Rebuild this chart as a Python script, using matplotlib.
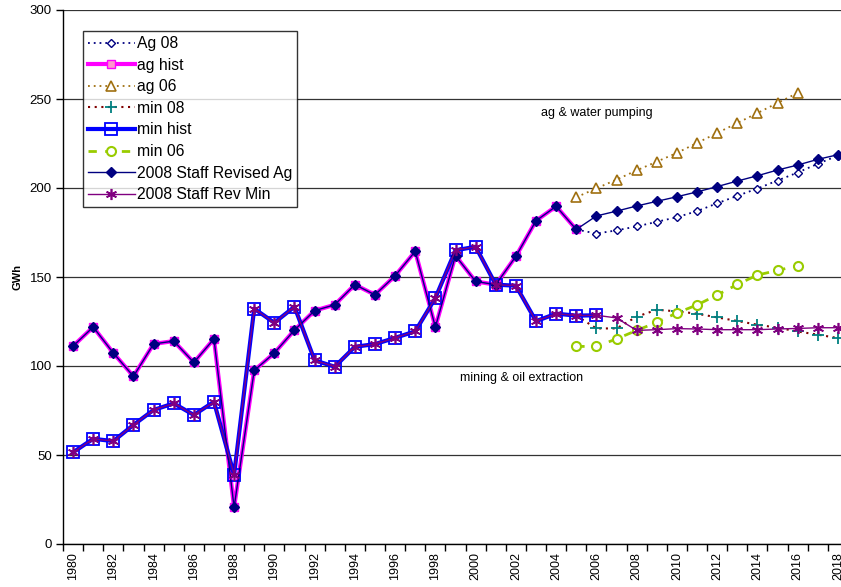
import matplotlib
matplotlib.use("Agg")
import matplotlib.pyplot as plt
import numpy as np

plt.rcParams["font.family"] = ["Liberation Sans", "DejaVu Sans"]

years_hist = list(range(1980, 2006))
ag_hist = [111.2, 121.9, 107.3, 94.2, 112.4, 114.0, 102.0, 115.2, 20.6, 97.5,
           107.3, 120.2, 131.1, 134.4, 145.7, 140.0, 150.7, 164.4, 121.9, 162.0,
           147.5, 145.7, 161.6, 181.6, 189.7, 176.7]
years_min_hist = list(range(1980, 2007))
min_hist = [51.5, 59.1, 57.8, 66.9, 75.3, 79.0, 72.5, 79.9, 38.9, 132.2,
            124.3, 133.3, 103.2, 99.6, 110.8, 112.3, 115.8, 119.5, 138.2, 165.0,
            167.0, 145.7, 145.1, 125.2, 129.4, 128.3, 128.5]

years_staff = list(range(1980, 2019))
staff_ag = ag_hist + [184.3, 187.0, 189.9, 192.5, 195.1, 197.8, 200.8, 203.9,
                      206.9, 210.1, 212.9, 216.1, 218.7]
staff_min = min_hist + [127.0, 120.0, 120.4, 121.0, 120.8, 120.4, 120.4, 120.4,
                        120.8, 121.1, 121.5, 121.5]

years_f08 = list(range(2005, 2019))
ag_08 = [176.7, 174.4, 176.2, 178.4, 181.0, 183.6, 187.0, 191.4, 195.6, 199.7,
         204.2, 208.7, 213.6, 218.2]
min_08 = [128.3, 121.1, 121.1, 127.7, 131.6, 130.7, 129.4, 127.3, 125.3, 123.2,
          121.5, 119.4, 117.6, 115.7]

years_f06 = list(range(2005, 2017))
ag_06 = [194.8, 199.8, 204.7, 209.9, 214.8, 219.7, 225.3, 230.9, 236.5, 242.1,
         247.8, 253.4]
min_06 = [111.0, 111.0, 115.2, 120.0, 124.5, 129.8, 134.3, 139.9, 145.8, 151.1,
          153.7, 156.3]

NAVY = "#000080"
fig = plt.figure(figsize=(8.41, 5.87), dpi=100)
ax = fig.add_axes([63 / 841, 1 - 544 / 587, 785 / 841, 534 / 587])

ax.plot(years_f08, ag_08, color=NAVY, lw=1.3, ls=(0, (1, 2.2)), marker="D", ms=4.5,
        mfc="white", mec=NAVY, mew=1, label="Ag 08", zorder=3)
ax.plot(years_hist, ag_hist, color="#FF00FF", lw=3, marker="s", ms=6,
        mfc="#FF99CC", mec="#FF00FF", label="ag hist", zorder=3)
ax.plot(years_f06, ag_06, color="#A07010", lw=1.3, ls=(0, (1, 2.2)), marker="^", ms=6.5,
        mfc="white", mec="#A07010", mew=1.2, label="ag 06", zorder=3)
ax.plot(years_f08, min_08, color="#800000", lw=1.5, ls=(0, (1, 2.2)), marker="+", ms=8,
        mec="#008080", mew=1.3, label="min 08", zorder=3)
ax.plot(years_min_hist, min_hist, color="#0000FF", lw=3, marker="s", ms=9,
        mfc="none", mec="#0000FF", mew=1.3, label="min hist", zorder=3)
ax.plot(years_f06, min_06, color="#99CC00", lw=2, ls=(0, (3, 3)), marker="o", ms=6.5,
        mfc="white", mec="#99CC00", mew=1.5, label="min 06", zorder=3)
ax.plot(years_staff, staff_ag, color=NAVY, lw=1, marker="D", ms=5,
        mfc=NAVY, mec=NAVY, label="2008 Staff Revised Ag", zorder=3)
ax.plot(years_staff, staff_min, color="#800080", lw=1, marker=(6, 2, 0), ms=8,
        mec="#800080", mew=1.2, label="2008 Staff Rev Min", zorder=3)

ax.set_xlim(1979.5, 2018.5)
ax.set_ylim(0, 300)
ax.set_yticks(np.arange(0, 301, 50))
ax.yaxis.grid(True, color="#333333", lw=0.9)
ax.set_axisbelow(True)
for s in ["top", "right"]:
    ax.spines[s].set_visible(False)
for s in ["left", "bottom"]:
    ax.spines[s].set_color("black")
    ax.spines[s].set_linewidth(1)

ax.set_xticks(range(1980, 2019, 2))
ax.set_xticklabels([str(y) for y in range(1980, 2019, 2)], rotation=90, fontsize=9)
ax.set_xticks(np.arange(1979.5, 2019, 1), minor=True)
ax.tick_params(axis="x", which="major", length=0, pad=6)
ax.tick_params(axis="x", which="minor", length=5, direction="out", width=1)
ax.tick_params(axis="y", length=5, direction="out", width=1, labelsize=9.5, pad=3)
ax.set_ylabel("GWh", fontsize=8, fontweight="bold", labelpad=5)

ax.text(2006.0, 242.3, "ag & water pumping", fontsize=9, ha="center", va="center")
ax.text(2002.3, 93.2, "mining & oil extraction", fontsize=9, ha="center", va="center")

leg = ax.legend(loc="upper left", bbox_to_anchor=(0.0255, 0.96), borderaxespad=0,
                fontsize=11.3, frameon=True, fancybox=False, handlelength=3.0,
                labelspacing=0.42, handletextpad=0.15, borderpad=0.3)
leg.get_frame().set_edgecolor("black")
leg.get_frame().set_linewidth(1)

fig.savefig("out.png", dpi=100)
